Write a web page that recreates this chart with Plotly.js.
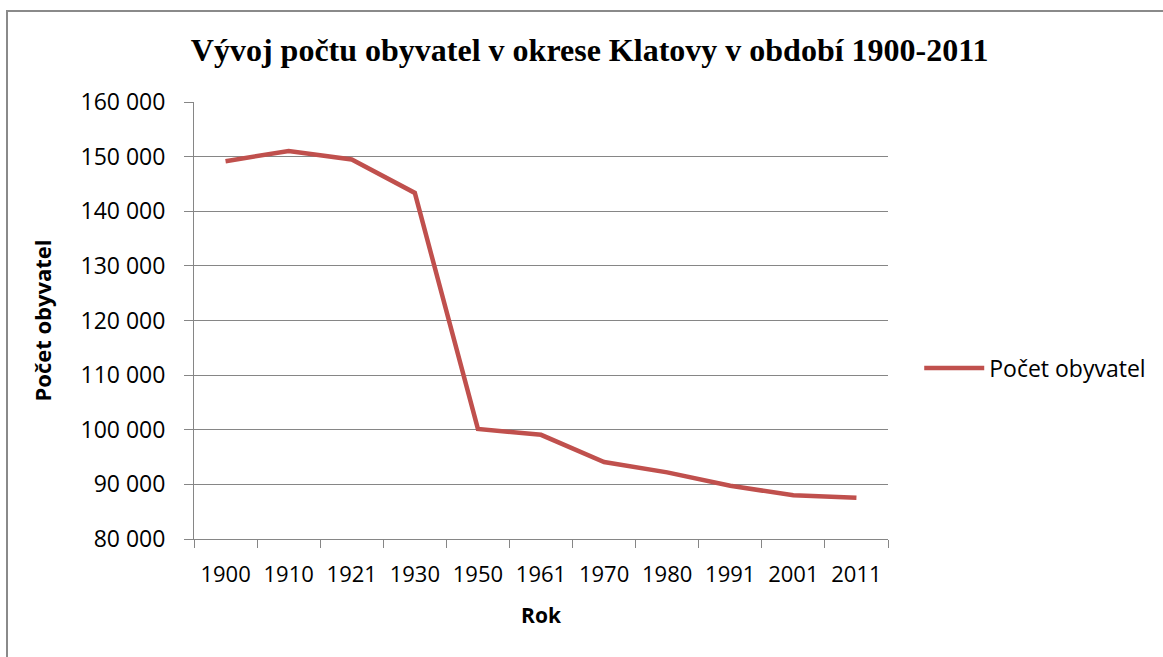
<!DOCTYPE html>
<html>
<head>
<meta charset="utf-8">
<script src="https://cdn.plot.ly/plotly-3.0.1.min.js"></script>
<style>
  html, body { margin: 0; padding: 0; background: #ffffff; overflow: hidden; }
  #frame { position: absolute; left: 6px; top: 10px; width: 1200px; height: 700px;
           border-top: 2px solid #8a8a8a; border-left: 2px solid #8a8a8a; }
  #chart { position: absolute; left: 0; top: 0; width: 1163px; height: 657px; }
</style>
</head>
<body>
<div id="frame"></div>
<div id="chart"></div>
<script>
const years = ["1900", "1910", "1921", "1930", "1950", "1961", "1970", "1980", "1991", "2001", "2011"];
const population = [149170, 151030, 149470, 143360, 100150, 99070, 94090, 92200, 89740, 88000, 87550];
const seriesName = "Počet obyvatel";
const chartTitle = "Vývoj počtu obyvatel v okrese Klatovy v období 1900-2011";
const xTitle = "Rok";
const yTitle = "Počet obyvatel";

const sans = "Open Sans, Noto Sans, sans-serif";
const gridCol = "#868686";

Plotly.newPlot("chart", [{
  type: "scatter",
  mode: "lines",
  x: years,
  y: population,
  name: seriesName,
  showlegend: true,
  line: { color: "#c0504d", width: 4.5 }
}], {
  width: 1163,
  height: 657,
  margin: { l: 194, r: 275, t: 102, b: 118, pad: 0 },
  paper_bgcolor: "rgba(0,0,0,0)",
  plot_bgcolor: "rgba(0,0,0,0)",
  separators: ", ",
  showlegend: true,
  title: {
    text: "<b>" + chartTitle + "</b>",
    font: { family: "Liberation Serif, Times New Roman, serif", size: 32, color: "#000" },
    x: 0.507, xanchor: "center", xref: "container",
    y: 0.924, yanchor: "middle", yref: "container"
  },
  xaxis: {
    type: "category",
    range: [-0.5, 10.5],
    tickson: "boundaries",
    ticks: "outside",
    ticklen: 8,
    tickcolor: gridCol,
    showline: true,
    linecolor: gridCol,
    linewidth: 1,
    showgrid: false,
    zeroline: false,
    tickfont: { family: sans, size: 22, color: "#000" },
    ticklabelstandoff: 16,
    title: { text: "<b>" + xTitle + "</b>", font: { family: sans, size: 21, color: "#000" }, standoff: 20 },
    fixedrange: true
  },
  yaxis: {
    range: [80000, 160000],
    dtick: 10000,
    tick0: 80000,
    tickformat: ",d",
    ticks: "outside",
    ticklen: 9,
    tickcolor: gridCol,
    showline: true,
    linecolor: gridCol,
    linewidth: 1,
    showgrid: true,
    gridcolor: gridCol,
    gridwidth: 1,
    zeroline: false,
    tickfont: { family: sans, size: 23, color: "#000" },
    ticklabelstandoff: 14,
    title: { text: "<b>" + yTitle + "</b>", font: { family: sans, size: 22, color: "#000" }, standoff: 22 },
    fixedrange: true
  },
  legend: {
    x: 1.045, xanchor: "left",
    y: 0.391, yanchor: "middle",
    font: { family: sans, size: 23, color: "#000" },
    itemwidth: 60,
    bgcolor: "rgba(0,0,0,0)"
  }
}, { displayModeBar: false, staticPlot: true });
</script>
</body>
</html>
